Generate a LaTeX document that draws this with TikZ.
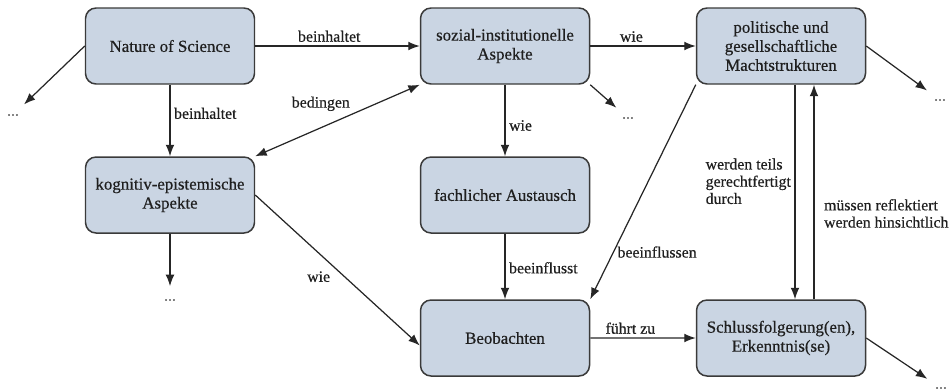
\documentclass[tikz,border=0pt]{standalone}
\usepackage{fontspec}
\setmainfont{Liberation Serif}[FakeBold=0.5]
\usetikzlibrary{positioning,arrows.meta}

\definecolor{boxfill}{RGB}{202,213,227}
\definecolor{boxdraw}{RGB}{58,58,58}
\definecolor{linegray}{RGB}{38,38,38}
\tikzset{
  box/.style={draw=boxdraw, fill=boxfill, rounded corners=6pt, line width=0.85pt,
    minimum width=3.38cm, minimum height=1.52cm, align=center,
    font=\fontsize{9.6}{10.8}\selectfont, text=black!88},
  lbl/.style={font=\fontsize{9}{9.8}\selectfont, inner sep=2pt, text=black!88},
  dots/.style={font=\fontsize{9}{9}\selectfont, text=black!55, inner sep=1pt},
  todots/.style={->, shorten >=6pt},
}

\begin{document}
\begin{tikzpicture}[node distance=6.7cm,>={Latex[length=6.5pt,width=5pt]},line width=0.7pt,draw=linegray]
    \useasboundingbox (0,0) rectangle (19.02,-7.82);
    \node[box] (nos) at (3.4,-0.92) {Nature of Science};
    \node[box, right of=nos] (soz) {sozial-institutionelle\\Aspekte};
    \node[box, right of=soz, node distance=5.52cm] (pol) {politische und\\gesellschaftliche\\Machtstrukturen};
    \node[box, below of=nos, node distance=2.98cm] (kog) {kognitiv-epistemische\\Aspekte};
    \node[box, below of=soz, node distance=2.98cm] (fach) {fachlicher Austausch};
    \node[box, below of=fach, node distance=2.86cm] (beob) {Beobachten};
    \node[box, below of=pol, node distance=5.84cm] (schluss) {Schlussfolgerung(en),\\Erkenntnis(se)};
    % offene Enden
    \node[dots] (dotsA) at (0.26,-2.3) {...};
    \node[dots] (dotsB) at (12.56,-2.36) {...};
    \node[dots] (dotsC) at (18.8,-2.0) {...};
    \node[dots, below of=kog, node distance=2.1cm] (dotsD) {...};
    \node[dots] (dotsE) at (18.82,-7.76) {...};
    %

    \draw[->] (nos) -- node[lbl, above, pos=0.45]{beinhaltet} (soz);
    \draw[->] (nos) -- node[lbl, right, pos=0.4]{beinhaltet} (kog);
    \draw[<->] (kog.north east) -- node[lbl, pos=0.6, anchor=south east, yshift=-1pt]{bedingen} (soz.south west);
    \draw[->] (soz) -- node[lbl, right, pos=0.57]{wie} (fach);
    \draw[->] (soz) -- node[lbl, above, pos=0.39]{wie} (pol);
    \draw[->] (fach) -- node[lbl, right, pos=0.52]{beeinflusst} (beob);
    \draw[->] (kog.east) -- node[lbl, pos=0.48, anchor=north east]{wie} (beob.185);
    \draw[->] (pol.south west) -- node[lbl, pos=0.78, anchor=west]{beeinflussen} (beob.north east);
    \draw[->] (beob) -- node[lbl, above, pos=0.38]{führt zu} (schluss);
    \draw[->] ([xshift=0.28cm]pol.south) -- node[lbl, left, pos=0.45, align=left]{werden teils\\gerechtfertigt\\durch} ([xshift=0.28cm]schluss.north);
    \draw[->] ([xshift=0.66cm]schluss.north) -- node[lbl, anchor=west, xshift=0.12cm, pos=0.4, align=left]{müssen reflektiert\\werden hinsichtlich} ([xshift=0.66cm]pol.south);

    \draw[todots] (nos.west) -- (dotsA);
    \draw[todots] (soz.south east) -- (dotsB);
    \draw[todots] (pol.east) -- (dotsC);
    \draw[todots] (kog.south) -- (dotsD);
    \draw[todots] (schluss.east) -- (dotsE);
\end{tikzpicture}
\end{document}
